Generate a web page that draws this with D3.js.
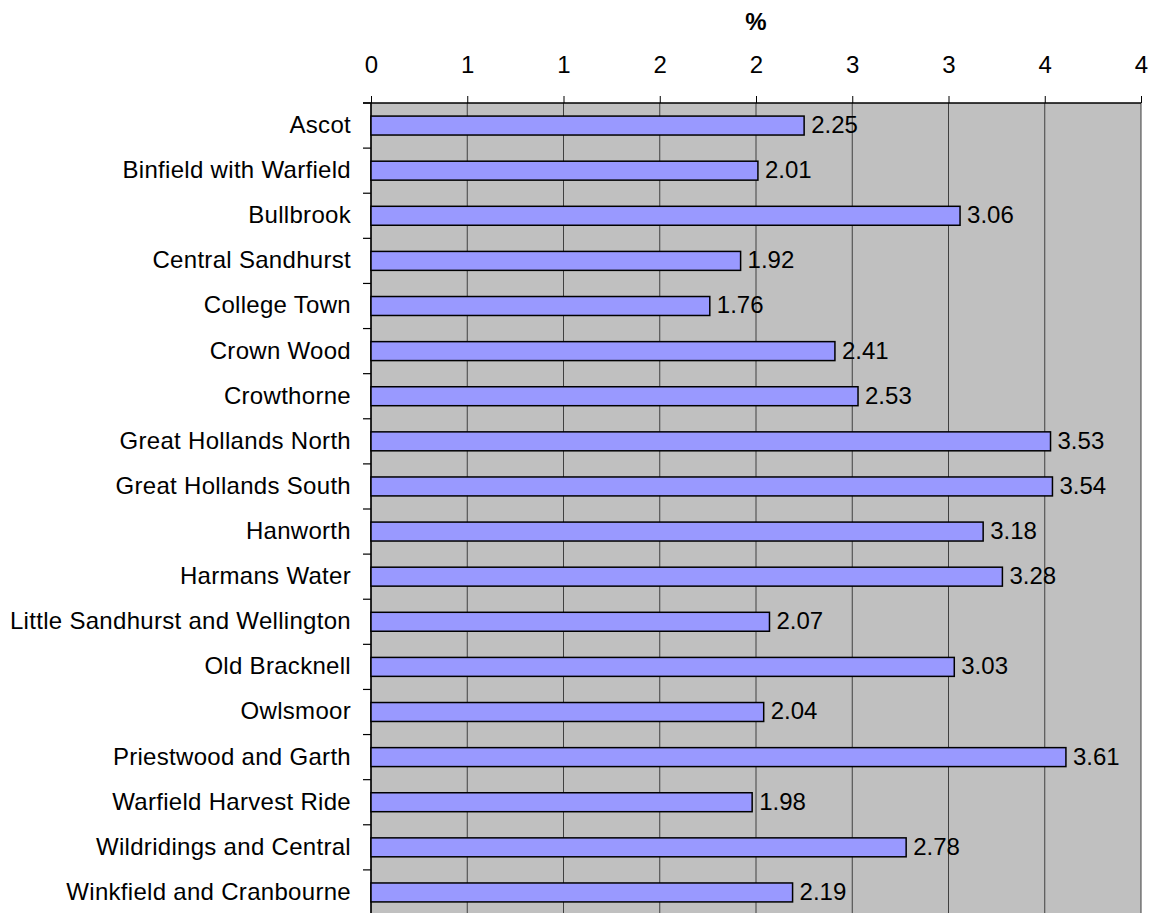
<!DOCTYPE html>
<html>
<head>
<meta charset="utf-8">
<script src="https://cdn.jsdelivr.net/npm/d3@7"></script>
<style>
  body { margin: 0; background: #fff; }
  text { font-family: "Liberation Sans", Arial, sans-serif; fill: #000; }
</style>
</head>
<body>
<svg id="chart"></svg>
<script>
var width = 1151;
var height = 913;

// wards and their values (%)
var wards = ["Ascot", "Binfield with Warfield", "Bullbrook", "Central Sandhurst",
  "College Town", "Crown Wood", "Crowthorne", "Great Hollands North",
  "Great Hollands South", "Hanworth", "Harmans Water", "Little Sandhurst and Wellington",
  "Old Bracknell", "Owlsmoor", "Priestwood and Garth", "Warfield Harvest Ride",
  "Wildridings and Central", "Winkfield and Cranbourne"];
var values = [2.25, 2.01, 3.06, 1.92, 1.76, 2.41, 2.53, 3.53, 3.54, 3.18,
  3.28, 2.07, 3.03, 2.04, 3.61, 1.98, 2.78, 2.19];
var xTicks = [0, 0.5, 1, 1.5, 2, 2.5, 3, 3.5, 4];
var axisTitle = "%";

//plot area edges (bottom runs past the picture, like the original)
var plotLeft = 371, plotRight = 1141, plotTop = 103, plotBottom = 915;

var svg = d3.select('#chart')
    .attr('width', width)
    .attr('height', height);

var x = d3.scaleLinear()
    .domain([0, 4])
    .range([plotLeft, plotRight]);

var y = d3.scaleBand()
    .domain(wards)
    .range([plotTop, plotBottom])
    .paddingInner(0.58)
    .paddingOuter(0.29);

//plot background
svg.append('rect')
    .attr('x', plotLeft)
    .attr('y', plotTop)
    .attr('width', plotRight - plotLeft)
    .attr('height', plotBottom - plotTop)
    .attr('fill', '#c0c0c0');

//vertical gridlines
svg.append('g')
    .selectAll('line')
    .data(xTicks)
    .enter()
    .append('line')
        .attr('x1', d => x(d))
        .attr('x2', d => x(d))
        .attr('y1', plotTop)
        .attr('y2', plotBottom)
        .attr('stroke', '#404040')
        .attr('stroke-width', 1);

//top axis
var xAxis = d3.axisTop(x)
    .tickValues(xTicks)
    .tickSize(7)
    .tickPadding(23)
    .tickFormat(d => Math.round(d));

var gx = svg.append('g')
    .attr('transform', `translate(0, ${plotTop})`)
    .call(xAxis);
gx.select('.domain').attr('stroke', '#000').attr('stroke-width', 1.5).attr('d', `M${plotLeft - 8},0H${plotRight}`);
gx.selectAll('.tick line').attr('stroke', '#000');
gx.selectAll('.tick text')
    .attr('font-size', 24)
    .style('font-family', '"Liberation Sans", Arial, sans-serif');

svg.append('text')
    .attr('x', (plotLeft + plotRight) / 2)
    .attr('y', 30)
    .attr('text-anchor', 'middle')
    .attr('font-size', 24)
    .attr('font-weight', 'bold')
    .text(axisTitle);

//left axis: ticks between categories
var step = y.step();
svg.append('g')
    .selectAll('line')
    .data(d3.range(wards.length + 1))
    .enter()
    .append('line')
        .attr('x1', plotLeft - 8)
        .attr('x2', plotLeft)
        .attr('y1', i => plotTop + i * step)
        .attr('y2', i => plotTop + i * step)
        .attr('stroke', '#000')
        .attr('stroke-width', 1.2);

svg.append('line')
    .attr('x1', plotLeft)
    .attr('x2', plotLeft)
    .attr('y1', plotTop)
    .attr('y2', plotBottom)
    .attr('stroke', '#000')
    .attr('stroke-width', 1.5);

//category labels
svg.append('g')
    .selectAll('text')
    .data(wards)
    .enter()
    .append('text')
        .attr('x', plotLeft - 20)
        .attr('y', d => y(d) + y.bandwidth() / 2 - 1)
        .attr('dy', '0.35em')
        .attr('text-anchor', 'end')
        .attr('font-size', 24)
        .style('letter-spacing', '0.3px')
        .text(d => d);

//bars
svg.append('g')
    .selectAll('rect')
    .data(values)
    .enter()
    .append('rect')
        .attr('x', x(0))
        .attr('y', (d, i) => y(wards[i]))
        .attr('width', d => x(d) - x(0))
        .attr('height', y.bandwidth())
        .attr('fill', '#9999ff')
        .attr('stroke', '#000')
        .attr('stroke-width', 1.5);

//value labels
svg.append('g')
    .selectAll('text')
    .data(values)
    .enter()
    .append('text')
        .attr('x', d => x(d) + 7)
        .attr('y', (d, i) => y(wards[i]) + y.bandwidth() / 2 - 1)
        .attr('dy', '0.35em')
        .attr('font-size', 24)
        .text(d => d.toFixed(2));
</script>
</body>
</html>
